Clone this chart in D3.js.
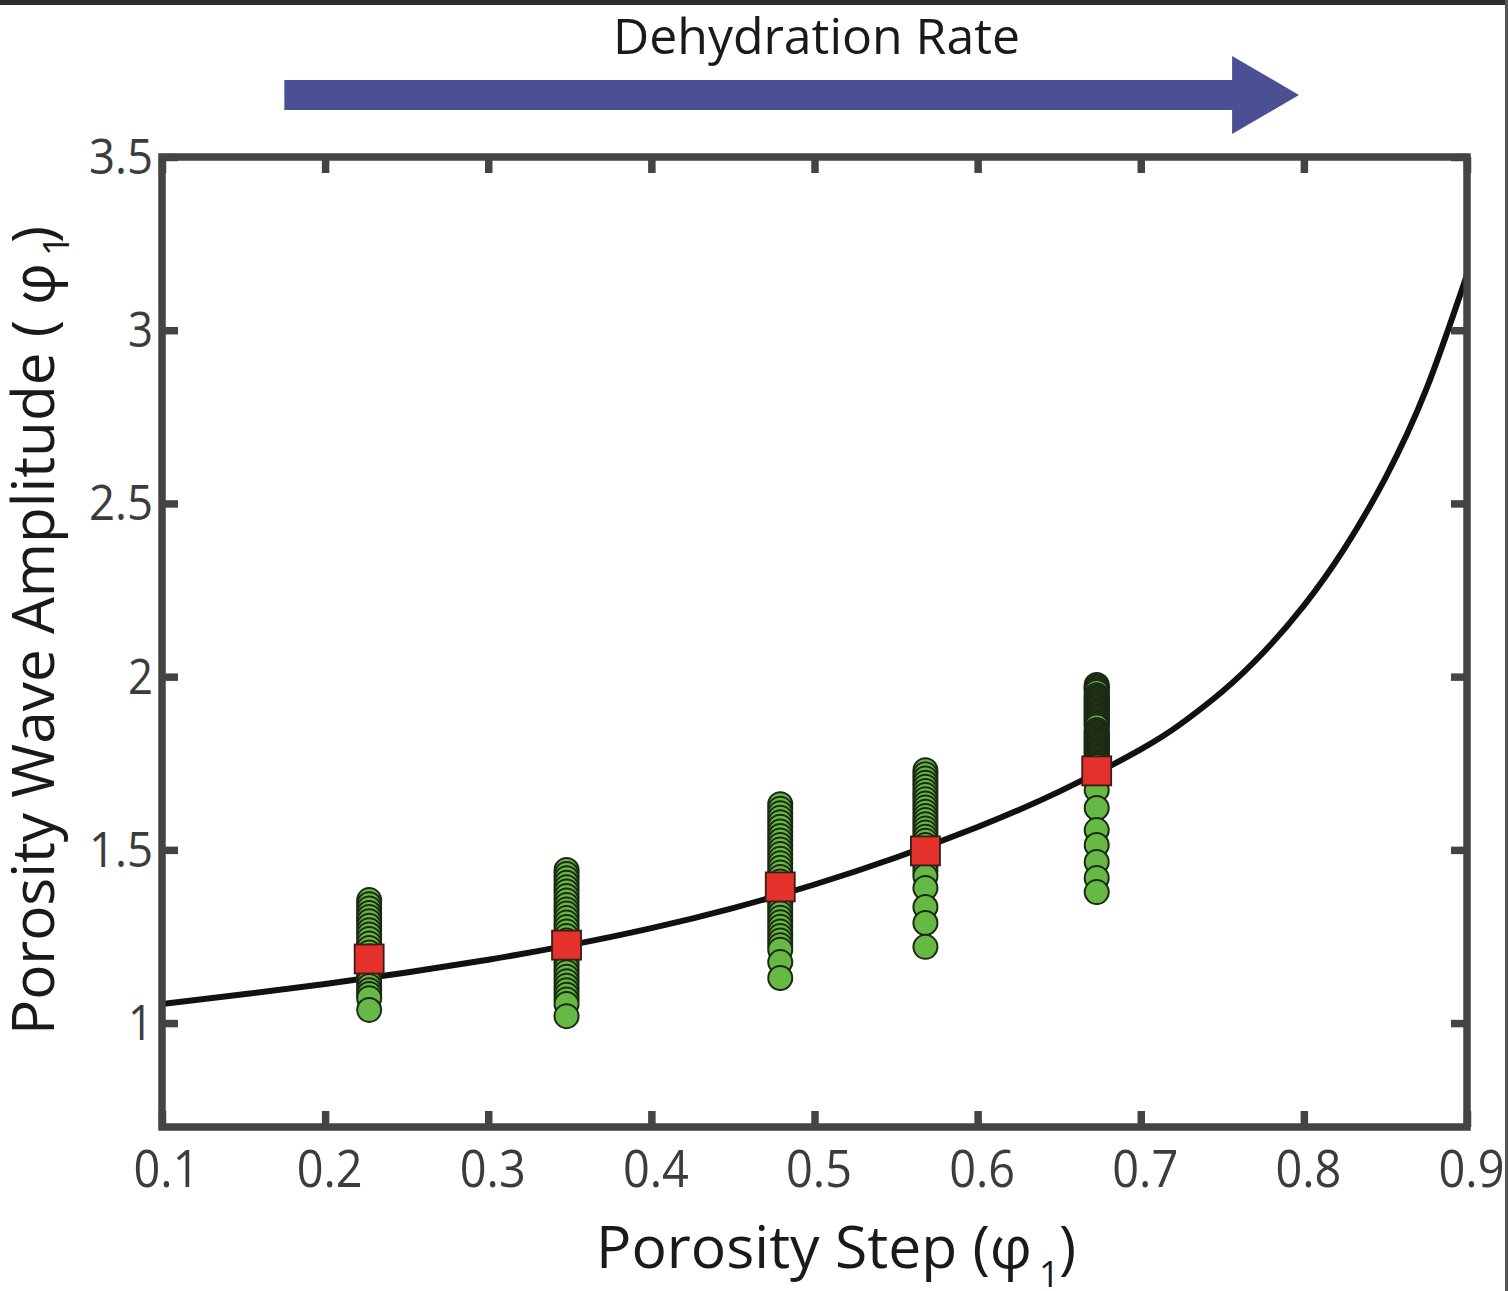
<!DOCTYPE html>
<html>
<head>
<meta charset="utf-8">
<script src="https://cdn.jsdelivr.net/npm/d3@7"></script>
<style>
  html, body { margin: 0; padding: 0; background: #fff; }
  svg { display: block; }
  text { font-family: "Open Sans", "Noto Sans", sans-serif; }
</style>
</head>
<body>
<svg id="chart" width="1508" height="1291"></svg>
<script>
// Porosity step at which each set of runs was made
const stepValues = [0.227, 0.348, 0.479, 0.568, 0.673];
// Mean wave amplitude for each porosity step
const meanAmplitudes = [1.185, 1.225, 1.393, 1.497, 1.728];

// Individual run amplitudes per porosity step
const amplitudesStep1 = [1.355, 1.343, 1.331, 1.318, 1.306, 1.294, 1.281, 1.268, 1.256, 1.243,
  1.230, 1.217, 1.204, 1.192, 1.180, 1.168, 1.156, 1.144, 1.131, 1.119, 1.107, 1.095, 1.084, 1.072, 1.038];
const amplitudesStep2 = [1.442, 1.430, 1.418, 1.405, 1.392, 1.380, 1.367, 1.354, 1.341, 1.328,
  1.316, 1.303, 1.290, 1.277, 1.264, 1.251, 1.238, 1.225, 1.212, 1.199, 1.186, 1.173, 1.160,
  1.147, 1.134, 1.121, 1.108, 1.095, 1.082, 1.068, 1.055, 1.020];
const amplitudesStep3 = [1.632, 1.619, 1.606, 1.593, 1.580, 1.567, 1.553, 1.540, 1.527, 1.514,
  1.501, 1.488, 1.474, 1.461, 1.448, 1.435, 1.422, 1.409, 1.396, 1.382, 1.369, 1.356, 1.343,
  1.330, 1.317, 1.304, 1.291, 1.278, 1.264, 1.251, 1.238, 1.225, 1.212, 1.176, 1.130];
const amplitudesStep4 = [1.730, 1.718, 1.706, 1.694, 1.682, 1.670, 1.658, 1.646, 1.634, 1.622,
  1.610, 1.598, 1.586, 1.574, 1.562, 1.550, 1.538, 1.526, 1.514, 1.502, 1.490, 1.478, 1.466,
  1.452, 1.438, 1.424, 1.390, 1.335, 1.289, 1.220];
const amplitudesStep5 = [1.976, 1.971, 1.966, 1.961, 1.956, 1.946, 1.941, 1.936, 1.931, 1.926,
  1.921, 1.916, 1.911, 1.906, 1.901, 1.896, 1.891, 1.886, 1.881, 1.876, 1.871, 1.866, 1.861,
  1.856, 1.846, 1.841, 1.836, 1.831, 1.826, 1.821, 1.816, 1.811, 1.806, 1.801, 1.796, 1.791,
  1.786, 1.781, 1.776, 1.771, 1.766, 1.761, 1.756, 1.751, 1.746, 1.741, 1.718, 1.700, 1.673,
  1.621, 1.557, 1.514, 1.465, 1.419, 1.378];

// Theoretical amplitude curve
const curveSteps = [0.10, 0.15, 0.20, 0.25, 0.30, 0.35, 0.40, 0.45, 0.50, 0.55, 0.60, 0.65,
  0.70, 0.725, 0.75, 0.775, 0.80, 0.825, 0.85, 0.875, 0.90];
const curveAmplitudes = [1.055, 1.083, 1.113, 1.146, 1.183, 1.225, 1.274, 1.332, 1.400, 1.478,
  1.566, 1.668, 1.790, 1.865, 1.957, 2.069, 2.205, 2.371, 2.574, 2.829, 3.160];

// Axis ticks
const xTickValues = [0.1, 0.2, 0.3, 0.4, 0.5, 0.6, 0.7, 0.8, 0.9];
const yTickValues = [1, 1.5, 2, 2.5, 3, 3.5];

const runAmplitudes = [amplitudesStep1, amplitudesStep2, amplitudesStep3, amplitudesStep4, amplitudesStep5];

const svg = d3.select("#chart");
const W = 1508, H = 1291;
const plotLeft = 162, plotRight = 1467, plotTop = 157, plotBottom = 1127;

const x = d3.scaleLinear().domain([0.1, 0.9]).range([plotLeft, plotRight]);
const y = d3.scaleLinear().domain([0.7, 3.5]).range([plotBottom, plotTop]);

const frameColor = "#444444";
const labelColor = "#3c3c3c";

// dark edges of the figure panel
svg.append("rect").attr("x", 0).attr("y", 0).attr("width", W).attr("height", 5).attr("fill", "#2e2e2e");
svg.append("rect").attr("x", W - 3).attr("y", 0).attr("width", 3).attr("height", H).attr("fill", "#555");

// "Dehydration Rate" arrow
const arrowY = 95, bodyHalf = 15, headHalf = 39;
const aStart = x(0.175), aHeadBase = x(0.756), aTip = x(0.797);
svg.append("path")
  .attr("d", `M${aStart},${arrowY - bodyHalf} L${aHeadBase},${arrowY - bodyHalf} L${aHeadBase},${arrowY - headHalf}
              L${aTip},${arrowY} L${aHeadBase},${arrowY + headHalf} L${aHeadBase},${arrowY + bodyHalf}
              L${aStart},${arrowY + bodyHalf} Z`)
  .attr("fill", "#4b5094");
svg.append("text")
  .attr("x", 613).attr("y", 54)
  .attr("font-size", 50).attr("fill", "#1a1a1a")
  .attr("textLength", 407).attr("lengthAdjust", "spacingAndGlyphs")
  .text("Dehydration Rate");

// clip for data inside the frame
svg.append("clipPath").attr("id", "plotClip")
  .append("rect").attr("x", plotLeft).attr("y", plotTop)
  .attr("width", plotRight - plotLeft).attr("height", plotBottom - plotTop);

const plot = svg.append("g").attr("clip-path", "url(#plotClip)");

// theoretical curve
const line = d3.line()
  .x((d, i) => x(curveSteps[i]))
  .y(d => y(d))
  .curve(d3.curveNatural);
plot.append("path")
  .datum(curveAmplitudes)
  .attr("d", line)
  .attr("fill", "none")
  .attr("stroke", "#111")
  .attr("stroke-width", 6);

// individual runs: drawn top to bottom so the lowest circle of each stack stays whole
const runs = [];
runAmplitudes.forEach((arr, i) => {
  arr.slice().sort((a, b) => b - a).forEach(v => runs.push({ step: stepValues[i], amp: v }));
});
plot.append("g").selectAll("circle")
  .data(runs)
  .join("circle")
  .attr("cx", d => x(d.step))
  .attr("cy", d => y(d.amp))
  .attr("r", 12)
  .attr("fill", "#66b944")
  .attr("stroke", "#1c2a14")
  .attr("stroke-width", 2);

// mean amplitude squares
const sq = 29;
plot.append("g").selectAll("rect")
  .data(stepValues.map((s, i) => ({ step: s, amp: meanAmplitudes[i] })))
  .join("rect")
  .attr("x", d => x(d.step) - sq / 2)
  .attr("y", d => y(d.amp) - sq / 2)
  .attr("width", sq).attr("height", sq)
  .attr("fill", "#e5312b")
  .attr("stroke", "#3a1d1a")
  .attr("stroke-width", 1.8);

// axes: inward ticks on all four sides
const tickLen = 16;
function styleAxis(g) {
  g.select(".domain").remove();
  g.selectAll(".tick line").attr("stroke", frameColor).attr("stroke-width", 7.5);
}
svg.append("g").attr("transform", `translate(0,${plotBottom})`)
  .call(d3.axisBottom(x).tickValues(xTickValues).tickSizeInner(-tickLen).tickSizeOuter(0)
    .tickFormat(d3.format(".1f")).tickPadding(0))
  .call(styleAxis)
  .call(g => g.selectAll(".tick text")
    .attr("y", 60).attr("dy", 0).attr("dx", 4)
    .attr("font-size", 52).attr("fill", labelColor)
    .attr("textLength", 66).attr("lengthAdjust", "spacingAndGlyphs")
    .style("font-family", "'Open Sans', sans-serif"));
svg.append("g").attr("transform", `translate(0,${plotTop})`)
  .call(d3.axisTop(x).tickValues(xTickValues).tickSizeInner(-tickLen).tickSizeOuter(0).tickFormat(""))
  .call(styleAxis);
svg.append("g").attr("transform", `translate(${plotLeft},0)`)
  .call(d3.axisLeft(y).tickValues(yTickValues).tickSizeInner(-tickLen).tickSizeOuter(0)
    .tickFormat(d3.format("")).tickPadding(0))
  .call(styleAxis)
  .call(g => g.selectAll(".tick text")
    .attr("x", -9).attr("dy", "0.33em")
    .attr("font-size", 50).attr("fill", labelColor)
    .each(function(d) {
      const t = d3.select(this);
      t.attr("textLength", String(d).length > 1 ? 64 : 25).attr("lengthAdjust", "spacingAndGlyphs");
    })
    .style("font-family", "'Open Sans', sans-serif"));
svg.append("g").attr("transform", `translate(${plotRight},0)`)
  .call(d3.axisRight(y).tickValues(yTickValues).tickSizeInner(-tickLen).tickSizeOuter(0).tickFormat(""))
  .call(styleAxis);

// frame
svg.append("rect")
  .attr("x", plotLeft).attr("y", plotTop)
  .attr("width", plotRight - plotLeft).attr("height", plotBottom - plotTop)
  .attr("fill", "none").attr("stroke", frameColor).attr("stroke-width", 7.5);

// x axis title
const xt = svg.append("g").attr("fill", "#1a1a1a");
xt.append("text").attr("x", 596).attr("y", 1268).attr("font-size", 58)
  .attr("textLength", 436).attr("lengthAdjust", "spacingAndGlyphs")
  .text("Porosity Step (φ");
xt.append("text").attr("x", 1039).attr("y", 1287).attr("font-size", 36).text("1");
xt.append("text").attr("x", 1059).attr("y", 1268).attr("font-size", 58).text(")");

// y axis title
const yt = svg.append("g").attr("fill", "#1a1a1a").attr("transform", "translate(54,1035) rotate(-90)");
yt.append("text").attr("x", 0).attr("y", 0).attr("font-size", 58)
  .attr("textLength", 772).attr("lengthAdjust", "spacingAndGlyphs")
  .text("Porosity Wave Amplitude ( φ");
yt.append("text").attr("x", 779).attr("y", 15).attr("font-size", 36).text("1");
yt.append("text").attr("x", 792).attr("y", 0).attr("font-size", 58).text(")");
</script>
</body>
</html>
